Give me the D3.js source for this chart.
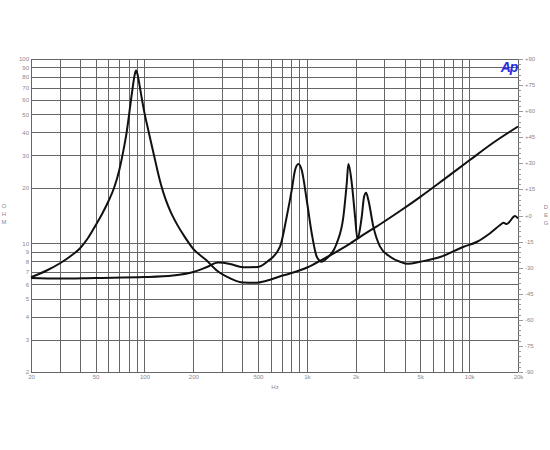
<!DOCTYPE html>
<html>
<head>
<meta charset="utf-8">
<script src="https://cdn.jsdelivr.net/npm/d3@7"></script>
<style>
  body { margin: 0; background: #fff; }
  text { font-family: "Liberation Sans", Arial, sans-serif; }
</style>
</head>
<body>
<script>
// grid / tick values
var freqGrid = [20, 30, 40, 50, 60, 70, 80, 90, 100, 200, 300, 400, 500, 600, 700, 800, 900,
  1000, 2000, 3000, 4000, 5000, 6000, 7000, 8000, 9000, 10000, 20000];
var freqLabels = [20, 50, 100, 200, 500, 1000, 2000, 5000, 10000, 20000];
var ohmTicks = [2, 3, 4, 5, 6, 7, 8, 9, 10, 20, 30, 40, 50, 60, 70, 80, 90, 100];
var degTicks = [-90, -75, -60, -45, -30, -15, 0, 15, 30, 45, 60, 75, 90];

// impedance curve (Hz, ohm)
var impFreq = [20, 25, 30, 35, 40, 45, 50, 55, 60, 65, 70, 74, 78, 82, 85, 87, 88.8,
  90.5, 93, 96, 100, 105.6, 110, 115, 120, 127, 135, 145, 150, 160, 175, 199,
  240, 279, 340, 404, 480, 570, 680, 788, 1004, 1230, 1454, 1848, 2300, 2800,
  3772, 4980, 7000, 10000, 14000, 20000];
var impOhm = [6.54, 7.11, 7.76, 8.5, 9.36, 10.7, 12.5, 14.5, 16.9, 20, 25, 31.5, 41, 57, 72, 82, 86.5,
  83, 73, 62, 51, 41, 35, 29.5, 25, 20.5, 17.3, 14.8, 13.9, 12.5, 11.0, 9.36,
  8.1, 7.11, 6.43, 6.12, 6.1, 6.27, 6.6, 6.85, 7.38, 8.1, 8.79, 9.96, 11.3, 12.6,
  15.0, 17.8, 22.2, 28.1, 35, 43];

// phase curve (Hz, deg)
var phFreq = [20, 30, 50, 100, 150, 200, 243, 284, 337, 404, 500, 570, 684, 752, 808, 846, 888, 931,
  999, 1072, 1152, 1236, 1327, 1529, 1680, 1763, 1804, 1893, 1983, 2048, 2180, 2253, 2318, 2395,
  2570, 2826, 3258, 3754, 4200, 4988, 6624, 9178, 11196, 13460, 15512, 16260, 17060, 19180, 20000];
var phDeg = [-36, -36.3, -35.9, -35.4, -34.5, -32.5, -29.6, -27.1, -27.9, -29.8, -29.6, -26.6, -17.9, -0.7, 14.7, 26, 29.6, 26,
  8.9, -10.2, -23.7, -26.6, -24.6, -16, -0.7, 18.7, 29.6, 18.5, -0.7, -13.1, -0.7, 10.8, 13.1, 8.9,
  -6.4, -17.9, -23.7, -26.6, -27.8, -26.6, -23.9, -18.1, -15.1, -10.2, -5.5, -4.1, -4.9, -0.3, -1.6];

var w = 550, h = 450;
var pLeft = 31, pRight = 518, pTop = 59, pBottom = 372;
var gridColor = "#666", labelColor = "#8a8590";

var svg = d3.select("body").append("svg")
  .attr("width", w)
  .attr("height", h);

var x = d3.scaleLog().domain([20, 20000]).range([pLeft, pRight]);
var yL = d3.scaleLog().domain([2, 100]).range([pBottom, pTop]);
var yR = d3.scaleLinear().domain([-90, 90]).range([pBottom, pTop]);

function px(v) { return Math.round(v) + 0.5; }

// vertical grid
svg.append("g").selectAll("line")
  .data(freqGrid)
  .enter()
  .append("line")
  .attr("x1", function(d) { return px(x(d)); })
  .attr("x2", function(d) { return px(x(d)); })
  .attr("y1", pTop)
  .attr("y2", pBottom)
  .attr("stroke", gridColor)
  .attr("stroke-width", 1);

// horizontal grid
svg.append("g").selectAll("line")
  .data(ohmTicks)
  .enter()
  .append("line")
  .attr("x1", pLeft)
  .attr("x2", pRight)
  .attr("y1", function(d) { return px(yL(d)); })
  .attr("y2", function(d) { return px(yL(d)); })
  .attr("stroke", gridColor)
  .attr("stroke-width", 1);

// left axis labels
var axL = d3.axisLeft(yL).tickValues(ohmTicks).tickSize(0).tickPadding(2)
  .tickFormat(function(d) { return d; });
svg.append("g").attr("transform", "translate(" + pLeft + ",0)").call(axL)
  .call(function(g) { g.select(".domain").remove(); })
  .selectAll("text").attr("font-size", "6px").attr("fill", labelColor);

// bottom axis labels
var axB = d3.axisBottom(x).tickValues(freqLabels).tickSize(0).tickPadding(3)
  .tickFormat(function(d) { return d >= 1000 ? (d / 1000) + "k" : d; });
svg.append("g").attr("transform", "translate(0," + pBottom + ")").call(axB)
  .call(function(g) { g.select(".domain").remove(); })
  .selectAll("text").attr("font-size", "6px").attr("fill", labelColor);

// right axis: line, minor ticks, labels
svg.append("line")
  .attr("x1", px(pRight)).attr("x2", px(pRight))
  .attr("y1", pTop).attr("y2", pBottom)
  .attr("stroke", gridColor);

svg.append("g").selectAll("line")
  .data(d3.range(-90, 91, 3))
  .enter()
  .append("line")
  .attr("x1", px(pRight))
  .attr("x2", function(d) { return d % 15 === 0 ? pRight + 5 : pRight + 3; })
  .attr("y1", function(d) { return px(yR(d)); })
  .attr("y2", function(d) { return px(yR(d)); })
  .attr("stroke", "#9a9a9a");

svg.append("g").selectAll("text")
  .data(degTicks)
  .enter()
  .append("text")
  .text(function(d) { return d >= 0 ? "+" + d : d; })
  .attr("x", pRight + 7)
  .attr("y", function(d) { return yR(d) + 2; })
  .attr("font-size", "6px")
  .attr("fill", labelColor);

// unit titles
svg.append("g").selectAll("text")
  .data(["O", "H", "M"])
  .enter()
  .append("text")
  .text(function(d) { return d; })
  .attr("x", 4)
  .attr("y", function(d, i) { return 208 + i * 8; })
  .attr("text-anchor", "middle")
  .attr("font-size", "6px")
  .attr("fill", labelColor);

svg.append("g").selectAll("text")
  .data(["D", "E", "G"])
  .enter()
  .append("text")
  .text(function(d) { return d; })
  .attr("x", 546)
  .attr("y", function(d, i) { return 209 + i * 8; })
  .attr("text-anchor", "middle")
  .attr("font-size", "6px")
  .attr("fill", labelColor);

svg.append("text")
  .text("Hz")
  .attr("x", 275)
  .attr("y", 389)
  .attr("text-anchor", "middle")
  .attr("font-size", "6px")
  .attr("fill", labelColor);

// logo
svg.append("text")
  .text("Ap")
  .attr("x", 509)
  .attr("y", 72)
  .attr("text-anchor", "middle")
  .attr("font-size", "14px")
  .attr("font-weight", "bold")
  .attr("font-style", "italic")
  .attr("letter-spacing", "-1px")
  .attr("fill", "#1f2fe0");

// curves
var impLine = d3.line()
  .x(function(d, i) { return x(impFreq[i]); })
  .y(function(d) { return yL(d); })
  .curve(d3.curveMonotoneX);

var phLine = d3.line()
  .x(function(d, i) { return x(phFreq[i]); })
  .y(function(d) { return yR(d); })
  .curve(d3.curveMonotoneX);

svg.append("path")
  .attr("d", impLine(impOhm))
  .attr("fill", "none")
  .attr("stroke", "#111")
  .attr("stroke-width", 2);

svg.append("path")
  .attr("d", phLine(phDeg))
  .attr("fill", "none")
  .attr("stroke", "#111")
  .attr("stroke-width", 2);
</script>
</body>
</html>
